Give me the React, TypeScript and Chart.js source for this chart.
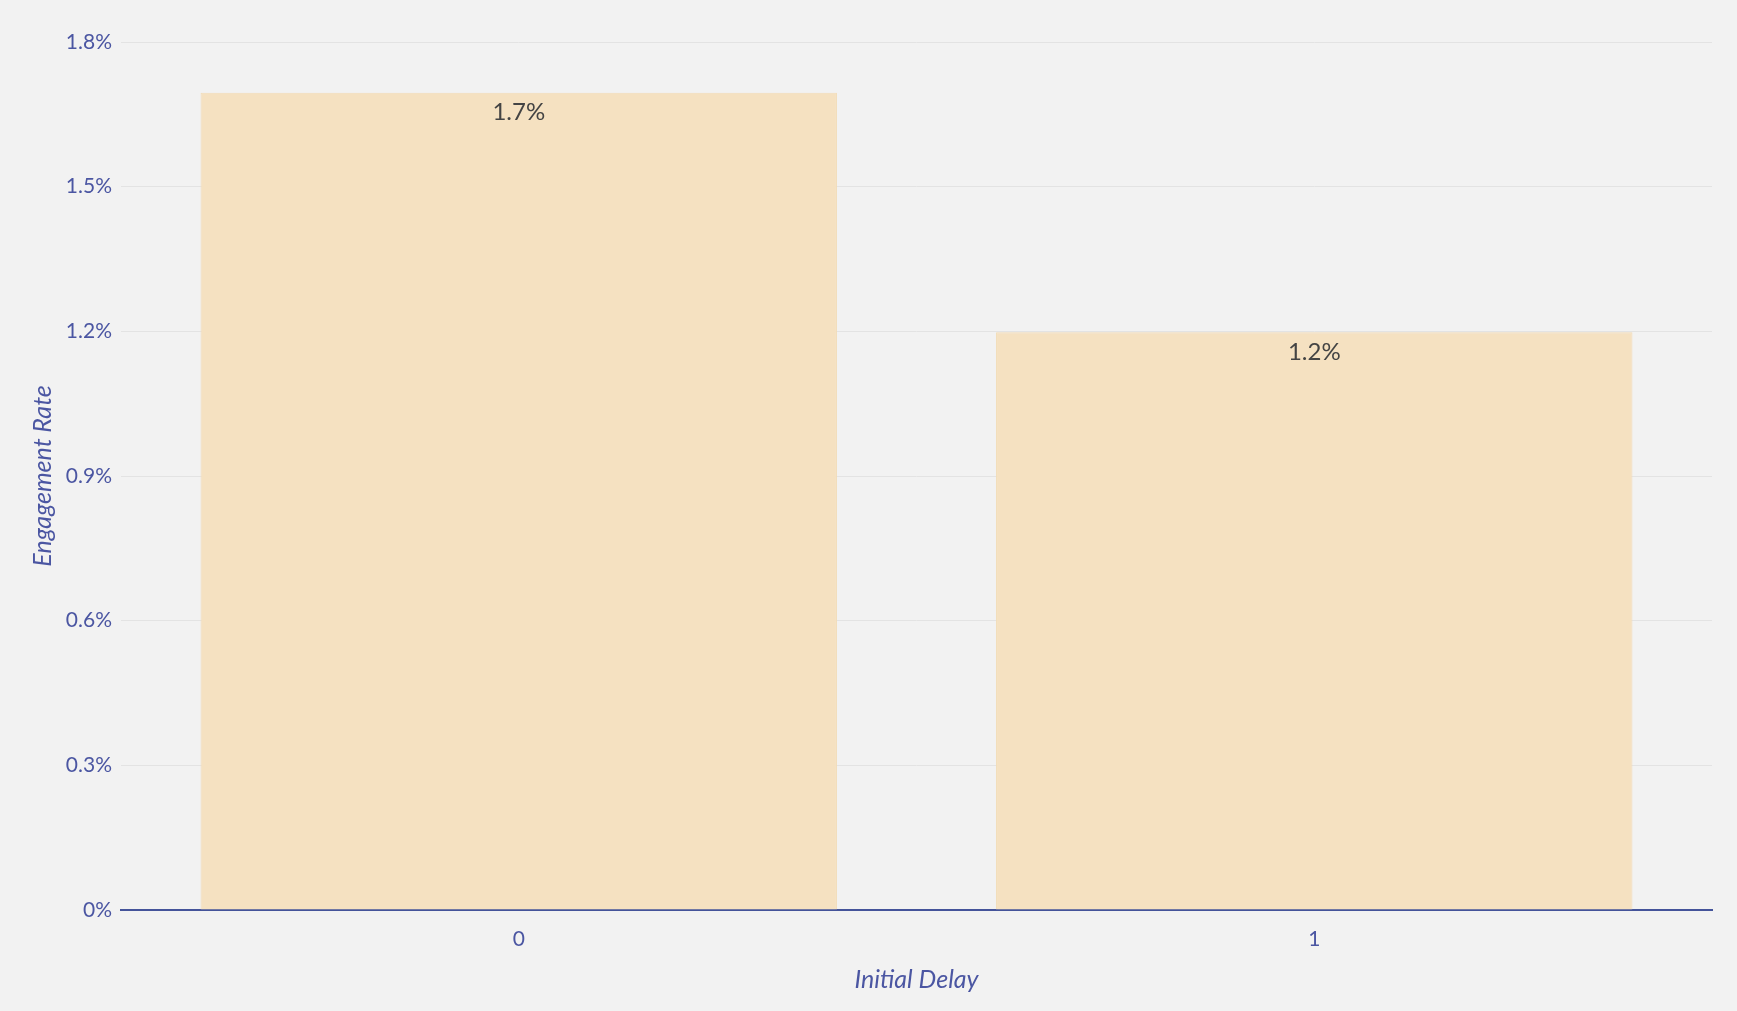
import React, { useEffect, useRef } from "react";
import { Chart, registerables } from "chart.js";

Chart.register(...registerables);

const categories: string[] = ["0", "1"];
const engagementRate: number[] = [1.695, 1.198];
const yTickValues: number[] = [0, 0.3, 0.6, 0.9, 1.2, 1.5, 1.8];

const FONT = "Lato, 'Open Sans', sans-serif";
const AXIS_COLOR = "#4b56a2";

const valueLabelPlugin = {
  id: "valueLabels",
  afterDatasetsDraw(chart: any) {
    const ctx = chart.ctx;
    const meta = chart.getDatasetMeta(0);
    ctx.save();
    ctx.font = `24px ${FONT}`;
    ctx.fillStyle = "#444444";
    ctx.textAlign = "center";
    ctx.textBaseline = "middle";
    meta.data.forEach((bar: any, i: number) => {
      const label = engagementRate[i].toFixed(1) + "%";
      ctx.fillText(label, bar.x, bar.y + 20);
    });
    ctx.restore();
  },
};

export default function App() {
  const canvasRef = useRef<HTMLCanvasElement | null>(null);

  useEffect(() => {
    if (!canvasRef.current) return;
    const chart = new Chart(canvasRef.current, {
      type: "bar",
      data: {
        labels: categories,
        datasets: [
          {
            data: engagementRate,
            backgroundColor: "#f5e1c1",
            borderColor: "#f2dcb6",
            borderWidth: 1,
            barPercentage: 0.8,
            categoryPercentage: 1.0,
          },
        ],
      },
      options: {
        animation: false,
        responsive: false,
        maintainAspectRatio: false,
        layout: { padding: { left: 0, top: 42, right: 25, bottom: 0 } },
        plugins: {
          legend: { display: false },
          tooltip: { enabled: false },
        },
        scales: {
          x: {
            grid: { display: false, drawTicks: false },
            border: { display: true, color: "#44549a", width: 2 },
            ticks: {
              color: AXIS_COLOR,
              font: { family: FONT, size: 21 },
              padding: 17,
            },
            title: {
              display: true,
              text: "Initial Delay",
              color: AXIS_COLOR,
              font: { family: FONT, size: 25, style: "italic" },
              padding: { top: 0, bottom: 16 },
            },
            afterFit: (scale: any) => {
              scale.height = 101;
            },
          },
          y: {
            min: 0,
            max: 1.8,
            afterBuildTicks: (scale: any) => {
              scale.ticks = yTickValues.map((v) => ({ value: v }));
            },
            grid: { color: "#e3e3e3", lineWidth: 1, drawTicks: false },
            border: { display: false },
            ticks: {
              color: AXIS_COLOR,
              font: { family: FONT, size: 21 },
              padding: 9,
              callback: (v: any) => {
                const n = Number(v);
                return n === 0 ? "0%" : n.toFixed(1) + "%";
              },
            },
            title: {
              display: true,
              text: "Engagement Rate",
              color: AXIS_COLOR,
              font: { family: FONT, size: 25, style: "italic" },
              padding: { top: 28, bottom: 0 },
            },
            afterFit: (scale: any) => {
              scale.width = 121;
            },
          },
        },
      },
      plugins: [valueLabelPlugin],
    });
    return () => chart.destroy();
  }, []);

  return (
    <div
      style={{
        position: "fixed",
        left: 0,
        top: 0,
        width: 1737,
        height: 1011,
        background: "#f2f2f2",
      }}
    >
      <canvas ref={canvasRef} width={1737} height={1011} style={{ display: "block" }} />
    </div>
  );
}
